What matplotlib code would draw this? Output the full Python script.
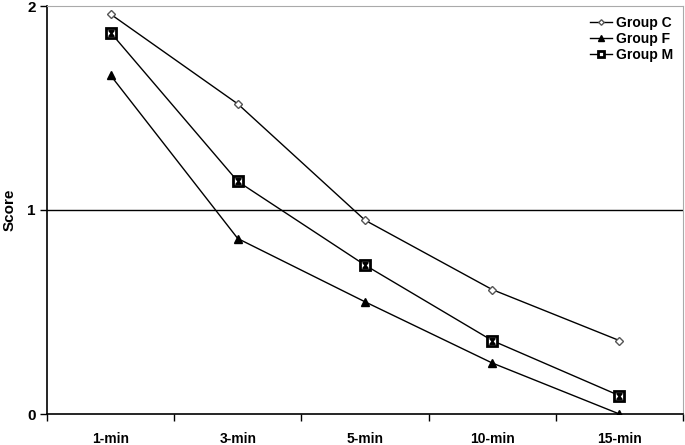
import matplotlib
matplotlib.use("Agg")
import matplotlib.pyplot as plt
import numpy as np

categories = ["1-min", "3-min", "5-min", "10-min", "15-min"]
group_c = [1.96, 1.52, 0.95, 0.61, 0.36]
group_f = [1.66, 0.86, 0.55, 0.25, 0.0]
group_m = [1.87, 1.14, 0.73, 0.36, 0.09]
yticks = [0, 1, 2]

plt.rcParams['font.family'] = ['Liberation Sans', 'DejaVu Sans']

fig = plt.figure(figsize=(6.85, 4.45), dpi=100)
ax = fig.add_axes([47/685, 1-414/445, (683-47)/685, (414-6)/445])

x = np.arange(len(categories))
ax.plot(x, group_c, color='black', lw=1.0, marker='D', markersize=4,
        markerfacecolor='white', markeredgecolor='#555555', markeredgewidth=1.0,
        label='Group C', zorder=3)
ax.plot(x, group_f, color='black', lw=1.0, marker='^', markersize=6,
        markerfacecolor='black', markeredgecolor='black', label='Group F', zorder=3)
ax.plot(x, group_m, color='black', lw=1.0, marker='s', markersize=7,
        markerfacecolor='white', markeredgecolor='black', markeredgewidth=2,
        label='Group M', zorder=3)
ax.plot(x, group_m, linestyle='none', marker='$\u29D7$', markersize=4,
        color='black', zorder=4)

ax.set_xlim(-0.5, len(categories) - 0.5)
ax.set_ylim(0, 2)
ax.set_yticks(yticks)
ax.set_yticklabels([str(t) for t in yticks], fontsize=11, fontweight='bold')
ax.set_xticks(x)
ax.set_xticklabels(categories, fontsize=10, fontweight='bold')
ax.set_xticks(np.arange(len(categories) + 1) - 0.5, minor=True)
ax.tick_params(axis='x', which='major', length=0, pad=13)
ax.tick_params(axis='x', which='minor', length=5, direction='out', width=1)
ax.tick_params(axis='y', length=5, direction='out', width=1, pad=3)

for yv in yticks[1:-1]:
    ax.axhline(yv, color='black', lw=1.0, zorder=1)

ax.spines['left'].set_linewidth(1.2)
ax.spines['bottom'].set_linewidth(1.2)
ax.spines['top'].set_color('#aaaaaa')
ax.spines['right'].set_color('#aaaaaa')
ax.spines['top'].set_linewidth(0.8)
ax.spines['right'].set_linewidth(0.8)

ax.set_ylabel("Score", fontsize=11, fontweight='bold', labelpad=8)

leg = ax.legend(loc='upper right', frameon=False,
                handlelength=1.6, handletextpad=0.3, labelspacing=0.15,
                borderaxespad=0.3, prop={'weight': 'bold', 'size': 10})
for h in leg.legend_handles:
    h.set_markersize(h.get_markersize() * 0.7)

fig.savefig("out.png", dpi=100)
